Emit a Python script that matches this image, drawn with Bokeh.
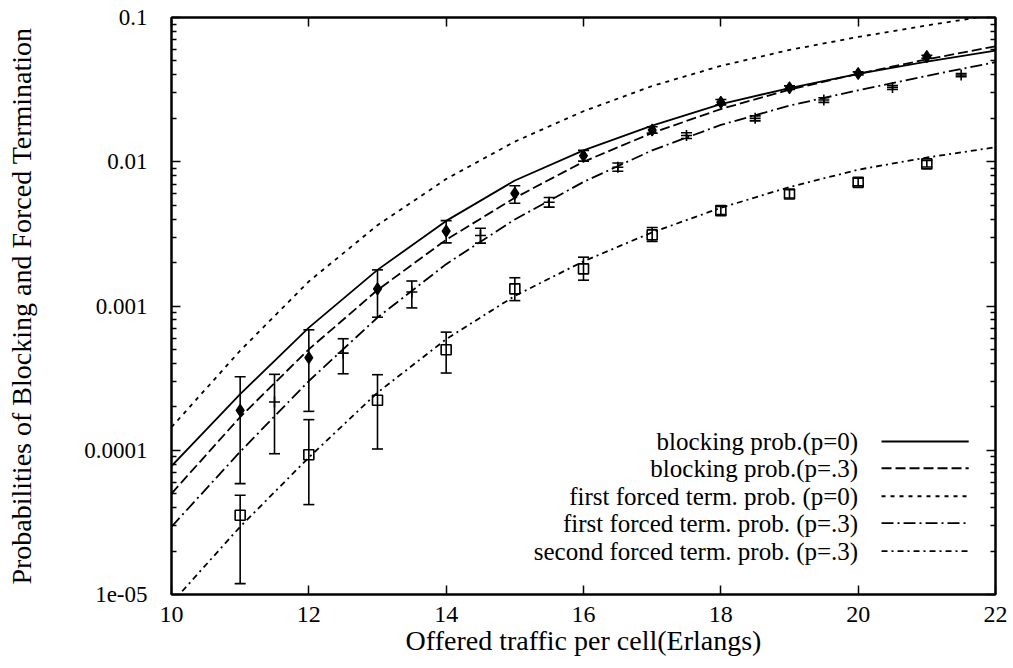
from bokeh.plotting import figure
from bokeh.models import (ColumnDataSource, Whisker, TeeHead, LinearAxis, LogAxis,
                          FixedTicker, CustomJSTickFormatter, Label, Arrow)
from bokeh.embed import file_html
from bokeh.resources import INLINE

# ---------------- data ----------------
traffic = [10, 11, 12, 13, 14, 15, 16, 17, 18, 19, 20, 21, 22]
blocking_p0 = [7.76e-5, 2.45e-4, 7.08e-4, 1.78e-3, 3.89e-3, 7.41e-3, 1.20e-2, 1.78e-2,
               2.51e-2, 3.24e-2, 4.07e-2, 4.95e-2, 5.89e-2]
blocking_p3 = [5.01e-5, 1.70e-4, 5.01e-4, 1.29e-3, 2.88e-3, 5.62e-3, 1.00e-2, 1.585e-2,
               2.32e-2, 3.16e-2, 4.07e-2, 5.13e-2, 6.31e-2]
first_ft_p0 = [1.445e-4, 4.90e-4, 1.48e-3, 3.63e-3, 7.59e-3, 1.38e-2, 2.24e-2, 3.35e-2,
               4.62e-2, 5.96e-2, 7.33e-2, 8.81e-2, 1.047e-1]
first_ft_p3 = [2.95e-5, 9.77e-5, 3.02e-4, 8.32e-4, 1.95e-3, 3.98e-3, 7.24e-3, 1.20e-2,
               1.80e-2, 2.45e-2, 3.13e-2, 3.94e-2, 4.90e-2]
second_ft_p3 = [8.71e-6, 2.95e-5, 8.91e-5, 2.51e-4, 5.89e-4, 1.175e-3, 2.04e-3, 3.24e-3,
                4.79e-3, 6.68e-3, 8.81e-3, 1.07e-2, 1.26e-2]

# simulation: diamonds (blocking)
sim_x_int = [11, 12, 13, 14, 15, 16, 17, 18, 19, 20, 21]
sim_blocking = [1.89e-4, 4.38e-4, 1.315e-3, 3.30e-3, 6.04e-3, 1.10e-2, 1.66e-2, 2.58e-2,
                3.26e-2, 4.09e-2, 5.35e-2]
sim_blocking_lo = [5.87e-5, 1.86e-4, 8.36e-4, 2.74e-3, 5.15e-3, 1.01e-2, 1.58e-2, 2.48e-2,
                   3.17e-2, 4.00e-2, 5.22e-2]
sim_blocking_hi = [3.23e-4, 6.84e-4, 1.78e-3, 3.91e-3, 6.82e-3, 1.20e-2, 1.75e-2, 2.70e-2,
                   3.36e-2, 4.20e-2, 5.48e-2]

# simulation: crosses (first forced termination, p=.3)
sim_x_half = [11.5, 12.5, 13.5, 14.5, 15.5, 16.5, 17.5, 18.5, 19.5, 20.5, 21.5]
sim_first = [2.16e-4, 4.71e-4, 1.25e-3, 3.08e-3, 5.24e-3, 9.15e-3, 1.52e-2, 2.00e-2,
             2.68e-2, 3.27e-2, 3.99e-2]
sim_first_lo = [9.46e-5, 3.39e-4, 9.7e-4, 2.73e-3, 4.85e-3, 8.6e-3, 1.45e-2, 1.92e-2,
                2.58e-2, 3.17e-2, 3.89e-2]
sim_first_hi = [3.36e-4, 5.93e-4, 1.49e-3, 3.46e-3, 5.65e-3, 9.8e-3, 1.59e-2, 2.08e-2,
                2.78e-2, 3.37e-2, 4.09e-2]

# simulation: squares (second forced termination, p=.3)
sim_second = [3.54e-5, 9.31e-5, 2.22e-4, 4.97e-4, 1.315e-3, 1.81e-3, 3.11e-3, 4.58e-3,
              5.98e-3, 7.20e-3, 9.66e-3]
sim_second_lo = [1.19e-5, 4.2e-5, 1.02e-4, 3.43e-4, 1.09e-3, 1.51e-3, 2.8e-3, 4.3e-3,
                 5.6e-3, 6.8e-3, 9.2e-3]
sim_second_hi = [4.87e-5, 1.63e-4, 3.34e-4, 6.59e-4, 1.57e-3, 2.18e-3, 3.5e-3, 4.9e-3,
                 6.4e-3, 7.7e-3, 1.02e-2]

x_ticks = [10, 12, 14, 16, 18, 20, 22]
y_ticks = [1e-5, 1e-4, 1e-3, 1e-2, 1e-1]

series_labels = ["blocking prob.(p=0)", "blocking prob.(p=.3)",
                 "first forced term. prob. (p=0)", "first forced term. prob. (p=.3)",
                 "second forced term. prob. (p=.3)"]

# ---------------- styling / layout ----------------
FONT = "Liberation Serif"
dashes = ["solid", "10 4", "4 5", "12 4 2 4", "6 4 2 4"]
LW = 1.8

p = figure(width=1013, height=668, x_range=(10, 22), y_range=(1e-5, 0.1),
           y_axis_type="log", output_backend="svg", toolbar_location=None,
           min_border_left=171, min_border_right=18, min_border_top=17,
           min_border_bottom=74)
p.background_fill_color = "white"
p.border_fill_color = "white"
p.outline_line_color = "black"
p.outline_line_width = 2
p.xgrid.visible = False
p.ygrid.visible = False

curves = [blocking_p0, blocking_p3, first_ft_p0, first_ft_p3, second_ft_p3]
for ys, d in zip(curves, dashes):
    p.line(traffic, ys, line_color="black", line_width=LW, line_dash=d)

def add_errors(xs, lo, hi):
    src = ColumnDataSource(dict(x=xs, lo=lo, hi=hi))
    w = Whisker(source=src, base="x", lower="lo", upper="hi", dimension="height",
                line_color="black", line_width=1.6,
                upper_head=TeeHead(size=11, line_color="black", line_width=1.6),
                lower_head=TeeHead(size=11, line_color="black", line_width=1.6))
    p.add_layout(w)

add_errors(sim_x_int, sim_blocking_lo, sim_blocking_hi)
add_errors(sim_x_half, sim_first_lo, sim_first_hi)
add_errors(sim_x_int, sim_second_lo, sim_second_hi)

p.scatter(sim_x_int, sim_blocking, marker="diamond", size=12,
          fill_color="black", line_color="black", line_width=1.2)
p.scatter(sim_x_half, sim_first, marker="cross", size=11,
          line_color="black", line_width=1.6)
p.scatter(sim_x_int, sim_second, marker="square", size=10,
          fill_color=None, line_color="black", line_width=1.6)

# axes
yfmt = CustomJSTickFormatter(code="""
const e = Math.round(Math.log10(tick));
const m = {"-1": "0.1", "-2": "0.01", "-3": "0.001", "-4": "0.0001", "-5": "1e-05"};
return m[String(e)];
""")
minor_y = [m * 10.0 ** k for k in range(-5, -1) for m in range(2, 10)]
yticker = FixedTicker(ticks=y_ticks, minor_ticks=minor_y)
xticker = FixedTicker(ticks=x_ticks)
blank = CustomJSTickFormatter(code="return '';")

def style_axis(ax):
    ax.axis_line_width = 2
    ax.axis_line_color = "black"
    ax.major_tick_in = 9
    ax.major_tick_out = 0
    ax.minor_tick_in = 5
    ax.minor_tick_out = 0
    ax.major_tick_line_width = 1.5
    ax.minor_tick_line_width = 1.5
    ax.major_tick_line_color = "black"
    ax.minor_tick_line_color = "black"
    ax.major_label_text_font = FONT
    ax.major_label_text_color = "black"
    ax.axis_label_text_color = "black"

ya = p.yaxis[0]
ya.ticker = yticker
ya.formatter = yfmt
style_axis(ya)
ya.major_label_text_font_size = "23px"
ya.major_label_standoff = 24
ya.axis_label = "Probabilities of Blocking and Forced Termination"
ya.axis_label_text_font = FONT
ya.axis_label_text_font_size = "28px"
ya.axis_label_text_font_style = "normal"
ya.axis_label_standoff = 44

xa = p.xaxis[0]
xa.ticker = xticker
style_axis(xa)
xa.minor_tick_line_color = None
xa.major_label_text_font_size = "24px"
xa.major_label_standoff = 12
xa.axis_label = "Offered traffic per cell(Erlangs)"
xa.axis_label_text_font = FONT
xa.axis_label_text_font_size = "28px"
xa.axis_label_text_font_style = "normal"
xa.axis_label_standoff = 0

top = LinearAxis(ticker=xticker, formatter=blank)
style_axis(top)
top.minor_tick_line_color = None
top.major_label_standoff = 0
top.major_label_text_font_size = "1px"
p.add_layout(top, "above")

right = LogAxis(ticker=yticker, formatter=blank)
style_axis(right)
right.major_label_standoff = 0
right.major_label_text_font_size = "1px"
p.add_layout(right, "right")

# legend (text right-aligned, sample line on the right)
legend_text_x = 20.0
legend_line_x = (20.34, 21.61)
legend_rows = [1.15e-4, 7.5e-5, 4.8e-5, 3.12e-5, 2.0e-5]
for lab, d, yy in zip(series_labels, dashes, legend_rows):
    p.add_layout(Label(x=legend_text_x, y=yy, text=lab, text_align="right",
                       text_baseline="middle", text_font=FONT,
                       text_font_size="25px", text_color="black"))
    p.add_layout(Arrow(end=None, x_start=legend_line_x[0], x_end=legend_line_x[1],
                       y_start=yy, y_end=yy, line_color="black",
                       line_width=LW, line_dash=d))

open("out.html", "w").write(file_html(p, INLINE))
